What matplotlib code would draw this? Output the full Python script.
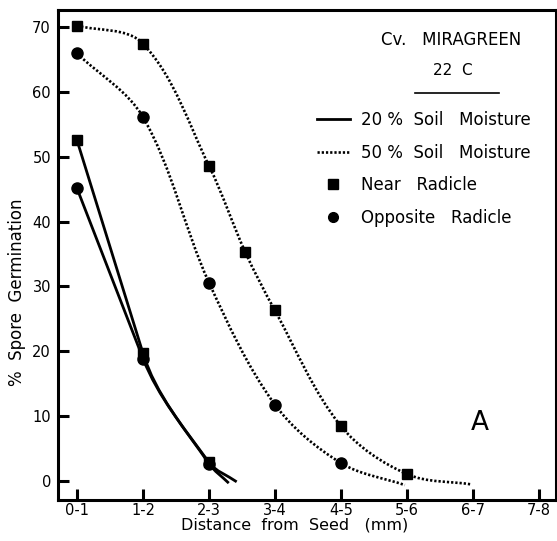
import numpy as np
import matplotlib
matplotlib.use("Agg")
from matplotlib import pyplot as plt
from matplotlib.path import Path
from matplotlib.patches import PathPatch
from matplotlib.lines import Line2D

plt.rcParams['font.family'] = ['DejaVu Sans']

# distance classes (mm) on the x axis
dist_labels = ['0-1', '1-2', '2-3', '3-4', '4-5', '5-6', '6-7', '7-8']
dist_pos = [1, 2, 3, 4, 5, 6, 7, 8]

# 50 % soil moisture, near radicle (tail = end of the drawn curve)
near50_x = [1, 2, 3, 3.55, 4, 5, 6]
near50_y = [70.2, 67.4, 48.6, 35.3, 26.3, 8.5, 1.1]
near50_tail = (6.98, -0.5)

# 50 % soil moisture, opposite radicle
opp50_x = [1, 2, 3, 4, 5]
opp50_y = [65.9, 56.1, 30.6, 11.8, 2.8]
opp50_tail = (5.97, -0.6)

# 20 % soil moisture
near20_x = [1, 2, 3]
near20_y = [52.5, 19.7, 2.9]
near20_tail = (3.42, -0.1)

opp20_x = [1, 2, 3]
opp20_y = [45.1, 18.9, 2.7]
opp20_tail = (3.30, -0.3)

DOTS = (0, (0.85, 0.75))


def smooth(xs, ys, tail, kink=(), scale=(66.0, 6.49)):
    # hand-drawn look: bezier segments with tangents from the neighbours,
    # worked out in screen-like proportions so short segments do not hook.
    # at the "kink" points the curve keeps the incoming direction.
    sc = np.array(scale)
    q = np.column_stack([list(xs) + [tail[0]], list(ys) + [tail[1]]]) * sc
    n = len(q)
    tang = []
    for i in range(n):
        if i in kink:
            d = q[i] - q[i - 1]
        else:
            d = q[min(i + 1, n - 1)] - q[max(i - 1, 0)]
        tang.append(d / np.hypot(*d))
    verts = [q[0]]
    codes = [Path.MOVETO]
    for i in range(n - 1):
        L = np.hypot(*(q[i + 1] - q[i])) / 3
        verts += [q[i] + tang[i] * L, q[i + 1] - tang[i + 1] * L, q[i + 1]]
        codes += [Path.CURVE4] * 3
    return Path(np.array(verts) / sc, codes)


fig = plt.figure(figsize=(5.57, 5.41), dpi=100)
ax = fig.add_axes([0.104, 0.0758, 0.894, 0.9057])

for xs, ys, tail, ls in [(near50_x, near50_y, near50_tail, DOTS),
                         (opp50_x, opp50_y, opp50_tail, DOTS),
                         (near20_x, near20_y, near20_tail, '-'),
                         (opp20_x, opp20_y, opp20_tail, '-')]:
    solid = ls == '-'
    ax.add_patch(PathPatch(smooth(xs, ys, tail, kink=(1,) if solid else ()),
                           fill=False, lw=2.0 if solid else 1.9, ls=ls,
                           edgecolor='black', zorder=2))

ax.plot(opp50_x, opp50_y, 'o', color='black', ms=8, zorder=3)
ax.plot(opp20_x, opp20_y, 'o', color='black', ms=8, zorder=3)
ax.plot(near50_x, near50_y, 's', color='black', ms=7.5, zorder=4)
ax.plot(near20_x, near20_y, 's', color='black', ms=7.5, zorder=4)

ax.set_xlim(0.71, 8.26)
ax.set_ylim(-2.9, 72.6)
ax.set_xticks(dist_pos)
ax.set_xticklabels(dist_labels)
ax.set_yticks(range(0, 71, 10))
ax.tick_params(direction='in', length=8, width=2.2, labelsize=10.5, pad=2)
ax.tick_params(axis='y', pad=5)
for s in ax.spines.values():
    s.set_linewidth(2.2)

fig.text(0.031, 1 - 292 / 541, '%  Spore  Germination', rotation=90,
         ha='center', va='center', fontsize=12)
fig.text(295 / 557, 1 - 525 / 541, 'Distance  from  Seed   (mm)',
         ha='center', va='center', fontsize=11.5)

ax.text(0.789, 0.939, 'Cv.   MIRAGREEN', transform=ax.transAxes,
        ha='center', va='center', fontsize=12)
ax.text(0.793, 0.876, '22  C', transform=ax.transAxes,
        ha='center', va='center', fontsize=11)
ax.plot([0.717, 0.886], [0.831, 0.831], color='black', lw=1.2,
        transform=ax.transAxes)
ax.text(7.1, 8.9, 'A', ha='center', va='center', fontsize=19)

handles = [Line2D([], [], color='black', lw=2.0),
           Line2D([], [], color='black', lw=1.9, ls=DOTS),
           Line2D([], [], color='black', marker='s', ls='none', ms=6.5),
           Line2D([], [], color='black', marker='o', ls='none', ms=7)]
labels = ['20 %  Soil   Moisture', '50 %  Soil   Moisture',
          'Near   Radicle', 'Opposite   Radicle']
ax.legend(handles, labels, loc='upper left', bbox_to_anchor=(0.52, 0.794),
          frameon=False, fontsize=12, handlelength=1.98, handletextpad=0.66,
          labelspacing=0.88, borderpad=0, borderaxespad=0)

fig.savefig('out.png', dpi=100)
